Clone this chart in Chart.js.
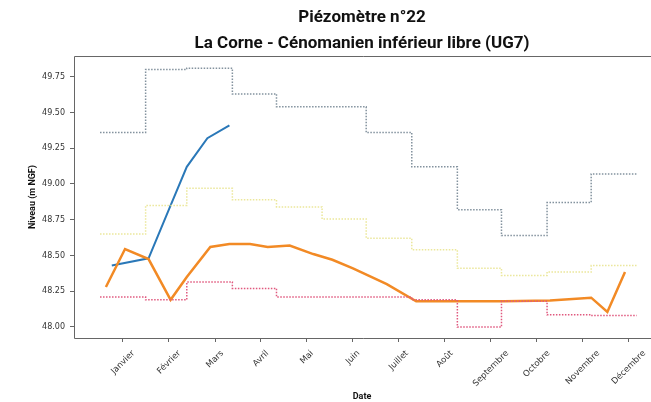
<!DOCTYPE html>
<html>
<head>
<meta charset="utf-8">
<script src="https://cdn.jsdelivr.net/npm/chart.js@4/dist/chart.umd.min.js"></script>
<style>
  html, body { margin: 0; padding: 0; background: #ffffff; overflow: hidden; }
  #wrap { width: 651px; height: 402px; position: relative; }
</style>
</head>
<body>
<div id="wrap"><canvas id="c" width="651" height="402"></canvas></div>
<script>
// ---- Data (x in day-of-year) ----
const monthNames = ['Janvier','Février','Mars','Avril','Mai','Juin','Juillet','Août','Septembre','Octobre','Novembre','Décembre'];
const tickDays = [15.6, 46.9, 78.2, 109.4, 140.7, 172.0, 203.2, 234.5, 265.8, 297.0, 328.3, 359.6];
const monthStartDays = [0, 31, 59, 90, 120, 151, 181, 212, 243, 273, 304, 334, 365];

const highValues = [49.36, 49.80, 49.81, 49.63, 49.54, 49.54, 49.36, 49.12, 48.82, 48.64, 48.87, 49.07];
const midValues  = [48.65, 48.85, 48.97, 48.89, 48.84, 48.755, 48.62, 48.54, 48.41, 48.36, 48.385, 48.43];
const lowValues  = [48.21, 48.19, 48.315, 48.27, 48.21, 48.21, 48.21, 48.19, 48.00, 48.18, 48.085, 48.08];

const orangeDays   = [4, 17, 33, 48, 59, 75, 88, 102, 114, 129, 145, 158, 172, 195, 215, 245, 275, 306, 334, 345, 357];
const orangeValues = [48.28, 48.545, 48.475, 48.19, 48.35, 48.56, 48.58, 48.58, 48.56, 48.57, 48.51, 48.47, 48.41, 48.30, 48.18, 48.18, 48.18, 48.185, 48.205, 48.105, 48.385];

const blueDays   = [8, 33, 48, 59, 73, 88];
const blueValues = [48.43, 48.48, 48.85, 49.12, 49.32, 49.41];

const yTicks = [48.00, 48.25, 48.50, 48.75, 49.00, 49.25, 49.50, 49.75];

// ---- Build datasets ----
function stepData(values) {
  const pts = values.map((v, i) => ({ x: monthStartDays[i], y: v }));
  pts.push({ x: monthStartDays[monthStartDays.length - 1], y: values[values.length - 1] });
  return pts;
}
function lineData(xs, ys) { return xs.map((x, i) => ({ x: x, y: ys[i] })); }

const frame = {
  id: 'frame',
  afterDraw(chart) {
    const a = chart.chartArea, ctx = chart.ctx;
    ctx.save();
    ctx.strokeStyle = '#666666';
    ctx.lineWidth = 1;
    ctx.beginPath();
    ctx.moveTo(a.left + 0.5, a.bottom + 0.5);
    ctx.lineTo(a.left + 0.5, a.top + 0.5);
    ctx.lineTo(a.right + 20, a.top + 0.5);
    ctx.moveTo(a.left + 0.5, a.bottom + 0.5);
    ctx.lineTo(a.right + 20, a.bottom + 0.5);
    ctx.stroke();
    ctx.restore();
  }
};

const centeredXLabels = {
  id: 'centeredXLabels',
  afterDraw(chart) {
    const sc = chart.scales.x, ctx = chart.ctx;
    ctx.save();
    ctx.font = '8.5px "DejaVu Sans", sans-serif';
    ctx.fillStyle = '#333333';
    ctx.textAlign = 'center';
    ctx.textBaseline = 'middle';
    tickDays.forEach((d, i) => {
      const x = sc.getPixelForValue(d);
      const txt = monthNames[i];
      const w = ctx.measureText(txt).width;
      const half = (w * Math.SQRT1_2) / 2 + 3;
      ctx.save();
      ctx.translate(x, chart.chartArea.bottom + 11 + half);
      ctx.rotate(-Math.PI / 4);
      ctx.fillText(txt, 0, 0);
      ctx.restore();
    });
    ctx.restore();
  }
};

new Chart(document.getElementById('c'), {
  type: 'line',
  data: {
    datasets: [
      { data: stepData(highValues), stepped: true, borderColor: '#83929e', borderWidth: 1.5, borderDash: [1.5, 1.5], pointRadius: 0, fill: false },
      { data: stepData(midValues), stepped: true, borderColor: '#ebe79a', borderWidth: 1.5, borderDash: [1.5, 1.5], pointRadius: 0, fill: false },
      { data: stepData(lowValues), stepped: true, borderColor: '#e0587e', borderWidth: 1.5, borderDash: [1.5, 1.5], pointRadius: 0, fill: false },
      { data: lineData(orangeDays, orangeValues), borderColor: '#f28a25', borderWidth: 2.5, pointRadius: 0, tension: 0, fill: false },
      { data: lineData(blueDays, blueValues), borderColor: '#2a78b8', borderWidth: 2, pointRadius: 0, tension: 0, fill: false }
    ]
  },
  options: {
    responsive: false,
    animation: false,
    layout: { padding: { left: 27, right: 1, top: 0, bottom: 0 } },
    plugins: {
      legend: { display: false },
      tooltip: { enabled: false },
      title: {
        display: true,
        fullSize: false,
        text: ['Piézomètre n°22', 'La Corne - Cénomanien inférieur libre (UG7)'],
        color: '#111111',
        font: { family: 'Roboto', size: 17, weight: 'bold', lineHeight: 1.53 },
        padding: { top: 5, bottom: -1 }
      }
    },
    scales: {
      x: {
        type: 'linear',
        min: -17.7,
        max: 374,
        afterFit(scale) { scale.height = 64; },
        afterBuildTicks(scale) { scale.ticks = tickDays.map(v => ({ value: v })); },
        grid: { display: true, drawOnChartArea: false, drawTicks: true, tickLength: 4, color: '#666666' },
        border: { display: false },
        ticks: { display: false },
        title: { display: true, text: 'Date', color: '#111111', font: { family: 'Roboto', size: 9, weight: 'bold' }, padding: { top: 0, bottom: 0 } }
      },
      y: {
        min: 47.923,
        max: 49.895,
        afterFit(scale) { scale.width = 47; },
        afterBuildTicks(scale) { scale.ticks = yTicks.map(v => ({ value: v })); },
        grid: { display: true, drawOnChartArea: false, drawTicks: true, tickLength: 4, color: '#666666' },
        border: { display: false },
        ticks: { color: '#333333', font: { family: 'DejaVu Sans', size: 8 }, padding: 5, callback: v => Number(v).toFixed(2) },
        title: { display: true, text: 'Niveau (m NGF)', color: '#111111', font: { family: 'Roboto', size: 9, weight: 'bold' }, padding: { top: 0, bottom: 0 } }
      }
    }
  },
  plugins: [frame, centeredXLabels]
});
</script>
</body>
</html>
